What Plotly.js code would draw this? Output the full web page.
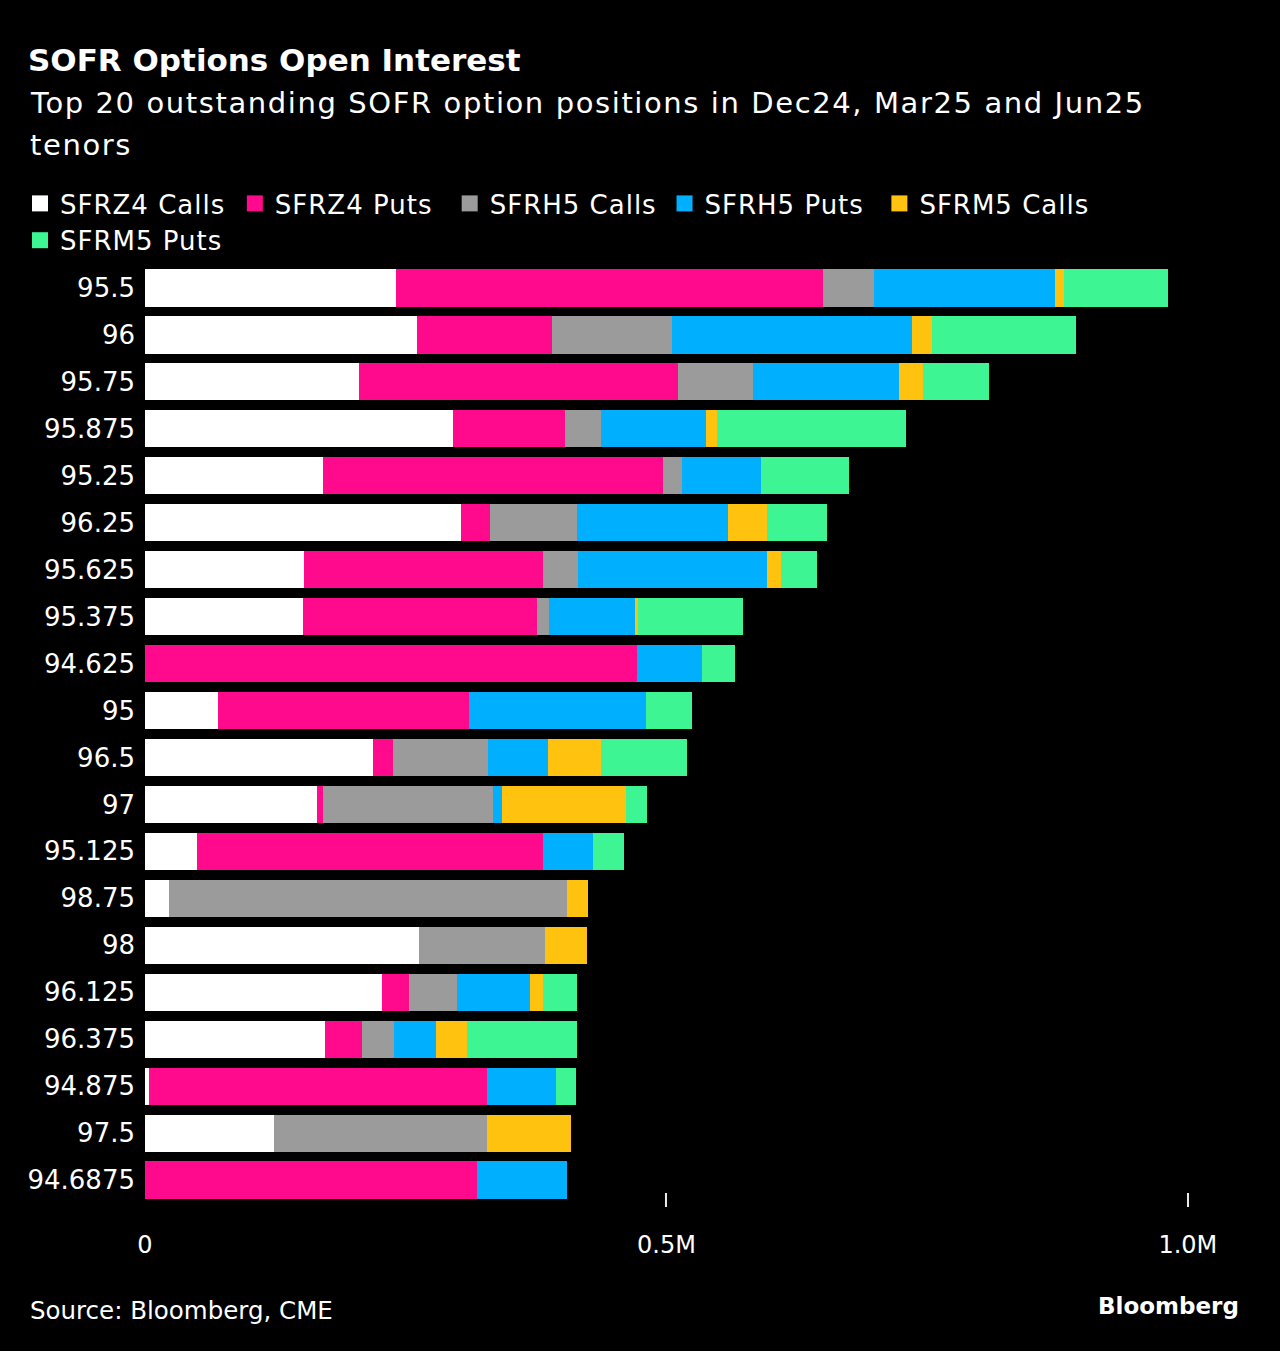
<!DOCTYPE html>
<html>
<head>
<meta charset="utf-8">
<script src="https://cdn.plot.ly/plotly-3.0.1.min.js"></script>
<style>
  html, body { margin: 0; padding: 0; background: #000000; }
  #chart { width: 1280px; height: 1351px; }
  .legendtext { letter-spacing: 1px; }
  .annotation[data-index="0"] text, .annotation[data-index="1"] text { letter-spacing: 1.6px; }
</style>
</head>
<body>
<div id="chart"></div>
<script>
// Strike prices (categories), top to bottom
var strikes = ['95.5','96','95.75','95.875','95.25','96.25','95.625','95.375','94.625','95',
               '96.5','97','95.125','98.75','98','96.125','96.375','94.875','97.5','94.6875'];

// Open interest (contracts) per series
var sfrz4Calls = [240600, 260800, 205200, 295300, 170700, 303000, 152400, 151500, 0, 70000,
                  218600, 164900, 49900, 23000, 262700, 227200, 172600, 3800, 123700, 0];
var sfrz4Puts  = [409400, 129400, 305800, 107400, 326000, 27800, 229100, 224400, 471700, 240700,
                  19200, 5800, 331700, 0, 0, 25900, 35500, 324100, 0, 318300];
var sfrh5Calls = [48900, 115100, 71900, 34500, 18200, 83400, 33600, 11500, 0, 0,
                  91100, 163000, 0, 381600, 120800, 46000, 30700, 0, 204200, 0];
var sfrh5Puts  = [173500, 230100, 140000, 100700, 75700, 144800, 181200, 82500, 62300, 169700,
                  57500, 8600, 47900, 0, 0, 70000, 40300, 66200, 0, 86300];
var sfrm5Calls = [8600, 19200, 23000, 10500, 0, 37400, 13400, 2900, 0, 0,
                  50800, 118900, 0, 20100, 40300, 12500, 29700, 0, 80500, 0];
var sfrm5Puts  = [99700, 138100, 63300, 181200, 84400, 57500, 34500, 100700, 31600, 44100,
                  82500, 20100, 29700, 0, 0, 32600, 105500, 19200, 0, 0];

var seriesNames = ['SFRZ4 Calls','SFRZ4 Puts','SFRH5 Calls','SFRH5 Puts','SFRM5 Calls','SFRM5 Puts'];
var seriesColors = ['#ffffff','#ff0a8c','#9b9b9b','#00b0ff','#ffc20e','#3ef594'];
var seriesValues = [sfrz4Calls, sfrz4Puts, sfrh5Calls, sfrh5Puts, sfrm5Calls, sfrm5Puts];

var xTickVals = [0, 500000, 1000000];
var xTickText = ['0', '0.5M', '1.0M'];

var FONT = '"DejaVu Sans", Inter, sans-serif';

var traces = [];
seriesNames.forEach(function (name, i) {
  traces.push({
    type: 'bar',
    orientation: 'h',
    name: name,
    y: strikes,
    x: seriesValues[i],
    marker: { color: seriesColors[i], line: { width: 0 } },
    showlegend: false,
    hoverinfo: 'skip'
  });
});
// legend entries (square markers)
seriesNames.forEach(function (name, i) {
  traces.push({
    type: 'scatter',
    mode: 'markers',
    name: name,
    x: [null],
    y: [null],
    marker: { symbol: 'square', size: 16, color: seriesColors[i] },
    showlegend: true,
    hoverinfo: 'skip'
  });
});

var W = 1280, H = 1351;
var mL = 145, mR = 40, mT = 265, mB = 144;
var pw = W - mL - mR, ph = H - mT - mB;
function px2x(px) { return (px - mL) / pw; }
function py2y(py) { return (H - mB - py) / ph; }

var layout = {
  width: W,
  height: H,
  paper_bgcolor: '#000000',
  plot_bgcolor: '#000000',
  margin: { l: mL, r: mR, t: mT, b: mB, pad: 0 },
  barmode: 'stack',
  bargap: 0.21,
  font: { family: FONT, color: '#ffffff', size: 25 },
  title: {
    text: '<b>SOFR Options Open Interest</b>',
    font: { family: FONT, size: 31, color: '#ffffff' },
    xref: 'container', yref: 'container',
    x: 28 / W, xanchor: 'left',
    y: 1 - 60 / H, yanchor: 'middle'
  },
  xaxis: {
    range: [0, 1050000],
    tickmode: 'array',
    tickvals: xTickVals,
    ticktext: xTickText,
    ticks: '',
    showgrid: false,
    zeroline: false,
    showline: false,
    ticklabelstandoff: 21,
    tickfont: { family: FONT, size: 24, color: '#ffffff' },
    minor: {
      tickmode: 'array',
      tickvals: [500000, 1000000],
      ticks: 'inside',
      ticklen: 14,
      tickwidth: 2,
      tickcolor: '#e8e8e8',
      showgrid: false
    },
    fixedrange: true
  },
  yaxis: {
    type: 'category',
    range: [19.575, -0.49],
    showgrid: false,
    zeroline: false,
    showline: false,
    ticks: '',
    ticklabelstandoff: 9,
    tickfont: { family: FONT, size: 26, color: '#ffffff' },
    fixedrange: true
  },
  legend: {
    orientation: 'h',
    x: px2x(20), xanchor: 'left',
    y: py2y(180), yanchor: 'top',
    bgcolor: 'rgba(0,0,0,0)',
    font: { family: FONT, size: 26, color: '#ffffff' },
    traceorder: 'normal',
    itemclick: false
  },
  annotations: [
    {
      text: 'Top 20 outstanding SOFR option positions in Dec24, Mar25 and Jun25',
      xref: 'paper', yref: 'paper', x: px2x(28), y: py2y(103),
      xanchor: 'left', yanchor: 'middle', align: 'left', showarrow: false,
      font: { family: FONT, size: 29, color: '#ffffff' }
    },
    {
      text: 'tenors',
      xref: 'paper', yref: 'paper', x: px2x(28), y: py2y(145),
      xanchor: 'left', yanchor: 'middle', align: 'left', showarrow: false,
      font: { family: FONT, size: 29, color: '#ffffff' }
    },
    {
      text: 'Source: Bloomberg, CME',
      xref: 'paper', yref: 'paper', x: px2x(28), y: py2y(1310),
      xanchor: 'left', yanchor: 'middle', align: 'left', showarrow: false,
      font: { family: FONT, size: 24.5, color: '#ffffff' }
    },
    {
      text: '<b>Bloomberg</b>',
      xref: 'paper', yref: 'paper', x: px2x(1241), y: py2y(1306),
      xanchor: 'right', yanchor: 'middle', showarrow: false,
      font: { family: FONT, size: 23, color: '#ffffff' }
    }
  ]
};

Plotly.newPlot('chart', traces, layout, { staticPlot: true, displayModeBar: false });
</script>
</body>
</html>
